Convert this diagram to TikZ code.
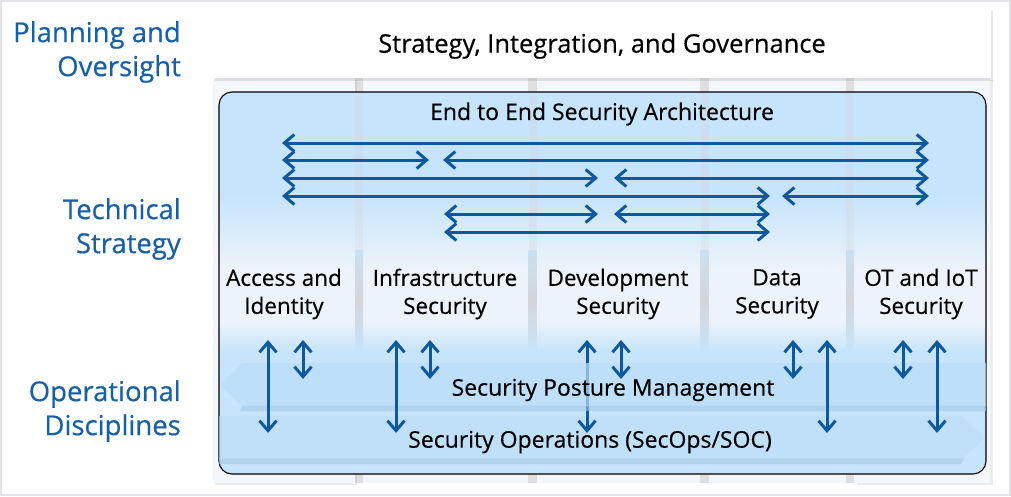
\documentclass[tikz,border=0pt]{standalone}
\usepackage{fontspec}
\setmainfont{Open Sans}[FakeBold=0.4]
\usetikzlibrary{arrows.meta,shadows}

\definecolor{arrowblue}{RGB}{14,88,160}
\definecolor{labelblue}{RGB}{22,96,166}
\definecolor{boxblue}{RGB}{198,228,251}
\definecolor{paleblue}{RGB}{236,243,250}
\definecolor{bandblue}{RGB}{188,222,250}
\definecolor{bandedge}{RGB}{165,200,230}
\definecolor{colgray}{RGB}{243,246,250}
\definecolor{gapgray}{RGB}{212,214,218}
\definecolor{framegray}{RGB}{228,228,232}

\tikzset{
  sidelabel/.style={text=labelblue, align=right, anchor=east, inner sep=0pt,
    font=\fontsize{27.5}{34}\selectfont},
  collabel/.style={align=center, inner sep=0pt, font=\fontsize{22.5}{28}\selectfont},
  titlelabel/.style={inner sep=0pt, font=\fontsize{23}{26}\selectfont},
  column/.style={fill=colgray, draw=none},
  harrow/.style={arrowblue, line width=3pt,
    {Straight Barb[length=10pt,width=17pt]}-{Straight Barb[length=10pt,width=17pt]}},
  varrow/.style={arrowblue, line width=3pt,
    {Straight Barb[length=10pt,width=17pt]}-{Straight Barb[length=10pt,width=17pt]}},
}

\begin{document}
\begin{tikzpicture}[x=1pt,y=-1pt]

\useasboundingbox (0,0) rectangle (1011,496);
\fill[white] (0,0) rectangle (1011,496);
\draw[framegray, line width=2pt] (1,1) rectangle (1010,495);

% columns behind the box
\fill[gray!25] (355,78) rectangle (363,483);
\fill[gray!25] (528,78) rectangle (537,483);
\fill[gray!25] (700,78) rectangle (709,483);
\fill[gray!25] (846,78) rectangle (854,483);
\fill[column, drop shadow={opacity=0.15, shadow xshift=2pt, shadow yshift=-2pt}] (213,78) rectangle (355,483);
\fill[column] (363,78) rectangle (528,483);
\fill[column] (537,78) rectangle (700,483);
\fill[column] (709,78) rectangle (846,483);
\fill[column, drop shadow={opacity=0.15, shadow xshift=3pt, shadow yshift=-2pt}] (854,78) rectangle (990,483);

% top panel
\fill[white, drop shadow={opacity=0.2, shadow xshift=2pt, shadow yshift=-3pt}] (213,8) rectangle (991,78);
\node[titlelabel, font=\fontsize{25.5}{28}\selectfont] (gov) at (602,46) {Strategy, Integration, and Governance};

% the big box, shaded
\coordinate (boxnw) at (219,92);
\coordinate (boxse) at (986,474);
\begin{scope}
  \clip[rounded corners=13pt] (boxnw) rectangle (boxse);
  \fill[boxblue] (219,92) rectangle (986,195);
  \shade[top color=boxblue, bottom color=paleblue] (219,195) rectangle (986,268);
  \fill[paleblue] (219,268) rectangle (986,322);
  \shade[top color=paleblue, bottom color=boxblue] (219,322) rectangle (986,352);
  \fill[boxblue] (219,352) rectangle (986,474);
  % faint column gaps through the box
  \foreach \gx in {359,532.5,704.5,850}
    \fill[gapgray, opacity=0.3] (\gx-4,92) rectangle (\gx+4,250);
  \foreach \gx in {359,532.5,704.5,850}
    \shade[top color=gapgray!30!boxblue, bottom color=gapgray] (\gx-4,250) rectangle (\gx+4,300);
  \foreach \gx in {359,532.5,704.5,850}
    \shade[top color=gapgray, bottom color=boxblue] (\gx-4,300) rectangle (\gx+4,350);
\end{scope}
\draw[black, line width=1.1pt, rounded corners=13pt] (boxnw) rectangle (boxse);

\node[titlelabel] (e2e) at (602,114) {End to End Security Architecture};

% column labels
\node[collabel] (access) at (284,294) {Access and\\Identity};
\node[collabel] (infra) at (445,294) {Infrastructure\\Security};
\node[collabel] (dev) at (618,294) {Development\\Security};
\node[collabel] (data) at (777,294) {Data\\Security};
\node[collabel] (ot) at (921,294) {OT and IoT\\Security};

% horizontal arrows
\foreach \hy/\ha/\hb in {143/282/929, 160/282/429, 160/443/929, 178/282/598, 178/614/929,
  196/282/770, 196/782/929, 214/444/598, 214/614/770, 232/444/770} {
  \coordinate (hl) at (\ha,\hy);
  \coordinate (hr) at (\hb,\hy);
  \draw[harrow] (hl) -- (hr);
}

% operations band
\fill[bandedge, opacity=0.6] (219,458) -- (964,458) -- (961,464) -- (219,464) -- cycle;
\fill[bandblue, opacity=0.55] (219,416) -- (962,416) -- (985,438) -- (962,459) -- (219,459) -- cycle;
\node[titlelabel] (secops) at (590,442) {Security Operations (SecOps/SOC)};

% long arrow of column 3 runs under the posture band
\coordinate (dtop) at (587,340);
\coordinate (dbot) at (587,433);
\draw[varrow] (dtop) -- (dbot);

% posture band
\fill[bandedge, opacity=0.6] (242,405) -- (986,405) -- (986,411) -- (240,411) -- cycle;
\fill[bandblue, opacity=0.7] (242,363) -- (986,363) -- (986,406) -- (242,406) -- (220,385) -- cycle;
\node[titlelabel] (posture) at (613,390) {Security Posture Management};

% vertical arrows
\foreach \vx/\vb in {268/433, 303/379, 396/433, 430/379, 621/379, 793/379, 827/433, 903/379, 937/433} {
  \coordinate (vt) at (\vx,340);
  \coordinate (vb) at (\vx,\vb);
  \draw[varrow] (vt) -- (vb);
}

% side labels
\node[sidelabel] (plan) at (181,52) {Planning and\\Oversight};
\node[sidelabel] (tech) at (181,229) {Technical\\Strategy};
\node[sidelabel] (ops) at (181,411) {Operational\\Disciplines};

\end{tikzpicture}
\end{document}
